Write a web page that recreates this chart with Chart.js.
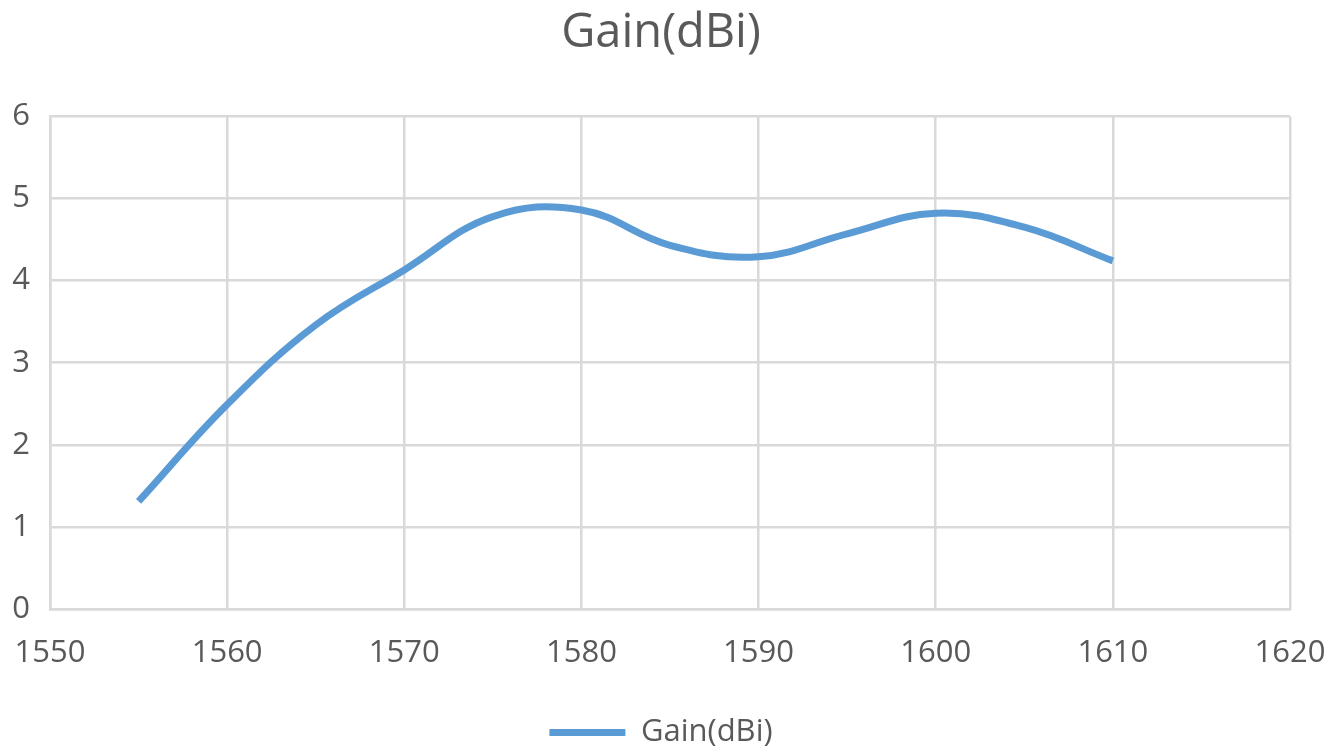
<!DOCTYPE html>
<html>
<head>
<meta charset="utf-8">
<script src="https://cdn.jsdelivr.net/npm/chart.js@4.4.0/dist/chart.umd.min.js"></script>
<style>
  html, body { margin: 0; padding: 0; background: #fff; }
  #wrap { width: 1342px; height: 751px; }
</style>
</head>
<body>
<div id="wrap"><canvas id="myChart"></canvas></div>
<script>
// frequency (MHz) and gain (dBi)
var freqs = [1555, 1560, 1565, 1570, 1575, 1580, 1585, 1590, 1595, 1600, 1605, 1610]
var gains = [1.31, 2.49, 3.46, 4.13, 4.78, 4.86, 4.43, 4.29, 4.57, 4.82, 4.65, 4.24]
var seriesName = 'Gain(dBi)'
var xTicks = [1550, 1560, 1570, 1580, 1590, 1600, 1610, 1620]
var yTicks = [0, 1, 2, 3, 4, 5, 6]

var points = []
for (var i in freqs) {
    points.push({x: freqs[i], y: gains[i]})
}

var textColor = '#595959'
var gridColor = '#d9d9d9'
var font = "'Open Sans', sans-serif"

var ctx = document.getElementById('myChart').getContext('2d');
var chart = new Chart(ctx, {
    type: 'line',
    data: {
        datasets: [{
            label: seriesName,
            data: points,
            borderColor: '#5b9bd5',
            backgroundColor: '#5b9bd5',
            borderWidth: 7,
            pointRadius: 0,
            tension: 0.4,
            fill: false
        }]
    },
    options: {
        responsive: true,
        maintainAspectRatio: false,
        animation: false,
        layout: {
            padding: {left: 0, right: 20, top: 0, bottom: -7}
        },
        plugins: {
            title: {
                display: true,
                text: seriesName,
                color: textColor,
                font: {family: font, size: 47, weight: 'normal'},
                padding: {top: 5, bottom: 55}
            },
            legend: {
                position: 'bottom',
                labels: {
                    color: textColor,
                    font: {family: font, size: 31},
                    usePointStyle: true,
                    pointStyle: 'line',
                    pointStyleWidth: 76,
                    boxHeight: 8,
                    padding: 3
                }
            },
            tooltip: {enabled: false}
        },
        scales: {
            x: {
                type: 'linear',
                min: xTicks[0],
                max: xTicks[xTicks.length - 1],
                afterBuildTicks: function (scale) {
                    scale.ticks = xTicks.map(function (v) { return {value: v} })
                },
                afterFit: function (scale) {
                    scale.height = 105
                    scale.paddingLeft = 0
                    scale.paddingRight = 52
                },
                grid: {color: gridColor, lineWidth: 2.5, drawTicks: false},
                border: {color: gridColor, width: 2.5},
                ticks: {
                    color: textColor,
                    font: {family: font, size: 31},
                    padding: 26,
                    maxRotation: 0,
                    callback: function (v) { return String(v) }
                }
            },
            y: {
                min: yTicks[0],
                max: yTicks[yTicks.length - 1],
                afterBuildTicks: function (scale) {
                    scale.ticks = yTicks.map(function (v) { return {value: v} })
                },
                afterFit: function (scale) { scale.width = 50 },
                grid: {color: gridColor, lineWidth: 2.5, drawTicks: false},
                border: {color: gridColor, width: 2.5},
                ticks: {
                    color: textColor,
                    font: {family: font, size: 31},
                    padding: 20
                }
            }
        }
    }
});
</script>
</body>
</html>
